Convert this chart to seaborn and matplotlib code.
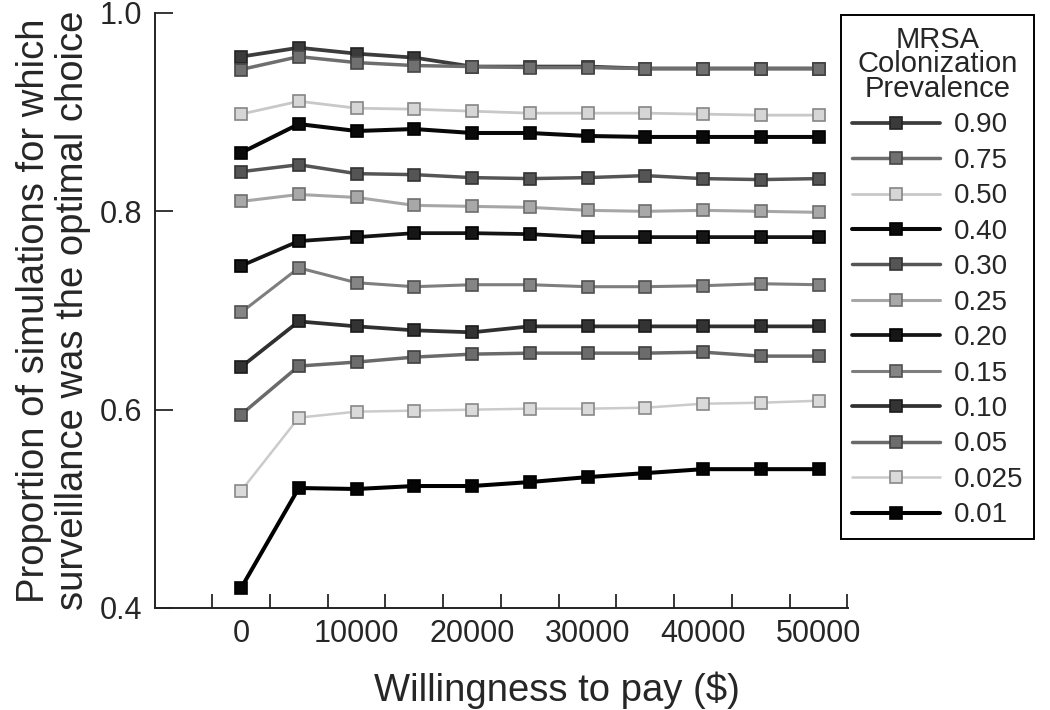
import numpy as np
import pandas as pd
import matplotlib
matplotlib.use("Agg")
import matplotlib.pyplot as plt
import seaborn as sns

# Willingness to pay ($)
wtp = [0, 5000, 10000, 15000, 20000, 25000, 30000, 35000, 40000, 45000, 50000]

prevalence = ["0.90", "0.75", "0.50", "0.40", "0.30", "0.25",
              "0.20", "0.15", "0.10", "0.05", "0.025", "0.01"]

p_090 = [0.956, 0.965, 0.959, 0.955, 0.946, 0.946, 0.946, 0.944, 0.944, 0.944, 0.944]
p_075 = [0.943, 0.956, 0.950, 0.947, 0.946, 0.945, 0.945, 0.944, 0.944, 0.944, 0.944]
p_050 = [0.898, 0.911, 0.904, 0.903, 0.901, 0.899, 0.899, 0.899, 0.898, 0.897, 0.897]
p_040 = [0.859, 0.888, 0.881, 0.883, 0.879, 0.879, 0.876, 0.875, 0.875, 0.875, 0.875]
p_030 = [0.840, 0.847, 0.838, 0.837, 0.834, 0.833, 0.834, 0.836, 0.833, 0.832, 0.833]
p_025 = [0.810, 0.817, 0.814, 0.806, 0.805, 0.804, 0.801, 0.800, 0.801, 0.800, 0.799]
p_020 = [0.745, 0.770, 0.774, 0.778, 0.778, 0.777, 0.774, 0.774, 0.774, 0.774, 0.774]
p_015 = [0.698, 0.743, 0.728, 0.724, 0.726, 0.726, 0.724, 0.724, 0.725, 0.727, 0.726]
p_010 = [0.643, 0.689, 0.684, 0.680, 0.678, 0.684, 0.684, 0.684, 0.684, 0.684, 0.684]
p_005 = [0.595, 0.644, 0.648, 0.653, 0.656, 0.657, 0.657, 0.657, 0.658, 0.654, 0.654]
p_0025 = [0.518, 0.592, 0.598, 0.599, 0.600, 0.601, 0.601, 0.602, 0.606, 0.607, 0.609]
p_001 = [0.420, 0.521, 0.520, 0.523, 0.523, 0.527, 0.532, 0.536, 0.540, 0.540, 0.540]

series = [p_090, p_075, p_050, p_040, p_030, p_025,
          p_020, p_015, p_010, p_005, p_0025, p_001]

# gris : (ligne, face marqueur, bord marqueur, epaisseur)
styles = {
    "0.90": ("#3c3c3c", "#3a3a3a", "#222222", 2.7),
    "0.75": ("#6e6e6e", "#707070", "#454545", 2.5),
    "0.50": ("#c8c8c8", "#d6d6d6", "#858585", 2.0),
    "0.40": ("#080808", "#0a0a0a", "#000000", 2.9),
    "0.30": ("#555555", "#555555", "#333333", 2.5),
    "0.25": ("#a6a6a6", "#a8a8a8", "#6e6e6e", 2.2),
    "0.20": ("#141414", "#161616", "#000000", 2.7),
    "0.15": ("#7e7e7e", "#858585", "#505050", 2.2),
    "0.10": ("#303030", "#333333", "#1a1a1a", 2.7),
    "0.05": ("#6a6a6a", "#6c6c6c", "#404040", 2.5),
    "0.025": ("#cbcbcb", "#dadada", "#888888", 1.8),
    "0.01": ("#000000", "#050505", "#000000", 2.9),
}

df = pd.DataFrame({
    "wtp": np.tile(wtp, len(prevalence)),
    "prev": np.repeat(prevalence, len(wtp)),
    "prop": np.concatenate(series),
})

sns.set_style("ticks")
plt.rcParams["font.family"] = ["Liberation Sans", "DejaVu Sans"]

fig = plt.figure(figsize=(10.5, 7.1), dpi=100)
ax = fig.add_axes([155 / 1050, 1 - 608 / 710, (848 - 155) / 1050, (608 - 13) / 710])

handles = []
for prev in prevalence:
    line_c, face_c, edge_c, lw = styles[prev]
    sub = df[df["prev"] == prev]
    sns.lineplot(data=sub, x="wtp", y="prop", ax=ax, color=line_c, lw=lw,
                 marker="s", markersize=9.3, markerfacecolor=face_c,
                 markeredgecolor=edge_c, markeredgewidth=1.2, label=prev,
                 legend=False)
    handles.append(ax.lines[-1])

ax.set_xlim(-7450, 52550)
ax.set_ylim(0.4, 1.0)
ax.set_xticks([0, 10000, 20000, 30000, 40000, 50000])
ax.set_xticks(np.arange(-2500, 52600, 5000), minor=True)
ax.set_yticks([0.4, 0.6, 0.8, 1.0])
ax.set_yticklabels(["0.4", "0.6", "0.8", "1.0"])
ax.tick_params(axis="x", which="major", length=0, labelsize=22, pad=8)
ax.tick_params(axis="x", which="minor", direction="in", length=10, width=1.3)
ax.tick_params(axis="y", direction="in", length=13, width=1.3, labelsize=22, pad=9)
for s in ["top", "right"]:
    ax.spines[s].set_visible(False)
for s in ["left", "bottom"]:
    ax.spines[s].set_linewidth(1.4)
    ax.spines[s].set_color("#222222")

ax.set_xlabel("Willingness to pay ($)", fontsize=27.5)
ax.xaxis.set_label_coords(0.58, -0.106)
ax.set_ylabel("Proportion of simulations for which\nsurveillance was the optimal choice",
              fontsize=27.5, linespacing=1.12)
ax.yaxis.set_label_coords(-0.092, 0.5)

leg = fig.legend(handles, prevalence, loc="upper left",
                 bbox_to_anchor=(841 / 1050, 1 - 15 / 710),
                 title="MRSA\nColonization\nPrevalence", fontsize=20, title_fontsize=21,
                 frameon=True, fancybox=False, edgecolor="black", framealpha=1,
                 handlelength=3.2, labelspacing=0.34, borderpad=0.38,
                 handletextpad=0.5, borderaxespad=0)
leg.get_frame().set_linewidth(1.4)
leg.get_title().set_linespacing(0.85)
leg.get_title().set_multialignment("center")

fig.savefig("out.png", dpi=100)
